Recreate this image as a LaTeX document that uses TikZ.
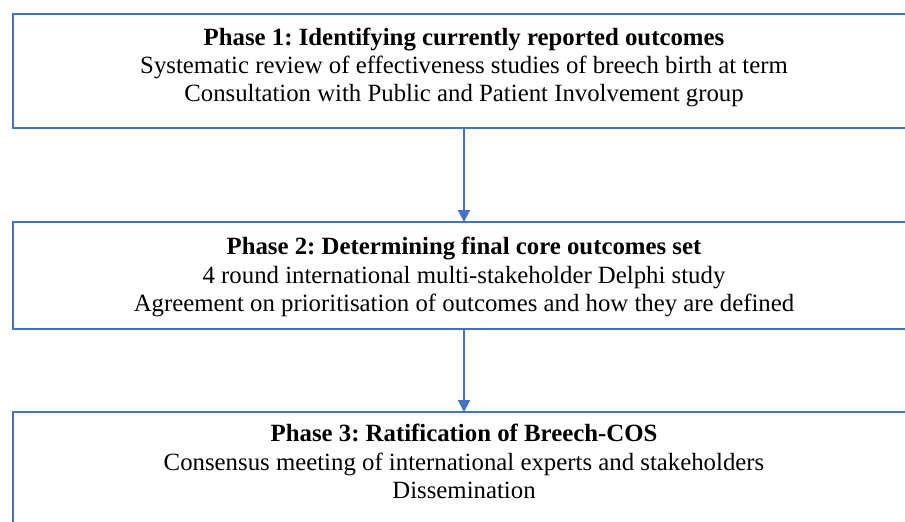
\documentclass[tikz,border=0pt]{standalone}
\usepackage{fontspec}
\setmainfont{Liberation Serif}
\usetikzlibrary{arrows.meta}
\definecolor{boxblue}{HTML}{4472C4}
\frenchspacing
\begin{document}
\begin{tikzpicture}[x=1pt,y=-1pt,
  phasebox/.style={draw=boxblue, line width=2pt, rectangle, inner sep=0pt, outer sep=0pt, minimum width=903pt},
  phasetext/.style={anchor=base, align=center, inner sep=0pt, font=\fontsize{24.8}{28.4}\selectfont\frenchspacing},
  flow/.style={draw=boxblue, line width=2pt, -{Triangle[length=12pt,width=12pt]}}]
\useasboundingbox (0,0) rectangle (905,522);
\clip (0,0) rectangle (905,522);
\node[phasebox, minimum height=114pt] (b1) at (464,71) {};
\node[phasebox, minimum height=107pt] (b2) at (464,275.5) {};
\node[phasebox, minimum height=128pt] (b3) at (464,476) {};
\node[phasetext] (t1) at (464,101.8) {\textbf{Phase 1: Identifying currently reported outcomes}\\
Systematic review of effectiveness studies of breech birth at term\\
Consultation with Public and Patient Involvement group};
\node[phasetext] (t2) at (464,311.7) {\textbf{Phase 2: Determining final core outcomes set}\\
4 round international multi-stakeholder Delphi study\\
Agreement on prioritisation of outcomes and how they are defined};
\node[phasetext] (t3) at (464,498.4) {\textbf{Phase 3: Ratification of Breech-COS}\\
Consensus meeting of international experts and stakeholders\\
Dissemination};
\draw[flow] (b1.south) -- (b2.north);
\draw[flow] (b2.south) -- (b3.north);
\end{tikzpicture}
\end{document}
